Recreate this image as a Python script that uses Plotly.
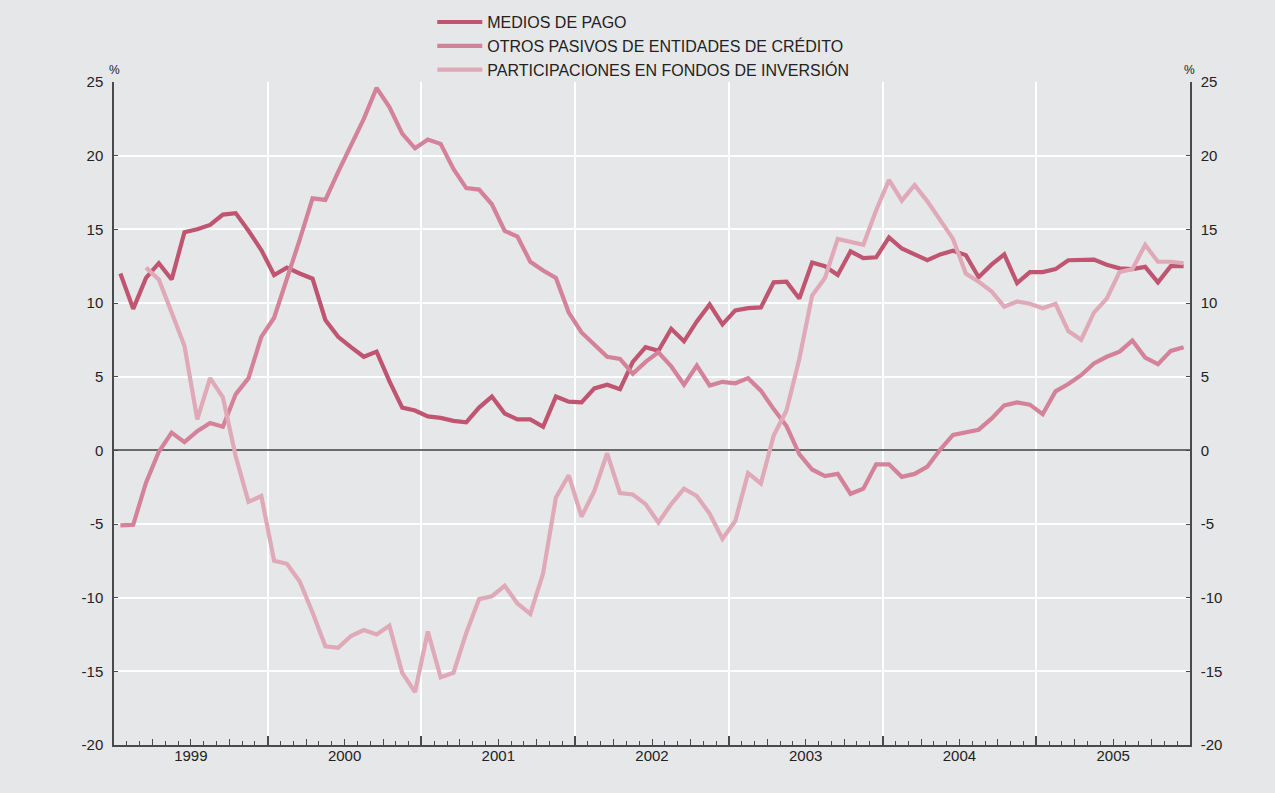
import plotly.graph_objects as go

# Monthly series, Jan 1999 - Dec 2005 (year-on-year growth, %)
years = ["1999", "2000", "2001", "2002", "2003", "2004", "2005"]
y_ticks = [-20, -15, -10, -5, 0, 5, 10, 15, 20, 25]
y_tick_text = ["-20", "-15", "-10", "-5", "0", "5", "10", "15", "20", "25"]

medios_de_pago = [
    12.0, 9.6, 11.7, 12.7, 11.6, 14.8, 15.0, 15.3, 16.0, 16.1, 14.9, 13.6,
    11.9, 12.4, 12.0, 11.65, 8.85, 7.7, 7.0, 6.35, 6.7, 4.7, 2.9, 2.7,
    2.3, 2.2, 2.0, 1.9, 2.9, 3.65, 2.5, 2.1, 2.1, 1.6, 3.65, 3.3,
    3.25, 4.2, 4.45, 4.15, 6.0, 7.0, 6.75, 8.25, 7.4, 8.75, 9.9, 8.55,
    9.5, 9.65, 9.7, 11.4, 11.45, 10.3, 12.75, 12.5, 11.9, 13.5, 13.05, 13.1,
    14.45, 13.7, 13.3, 12.9, 13.3, 13.55, 13.25, 11.75, 12.6, 13.3, 11.35, 12.1,
    12.1, 12.3, 12.9, 12.9, 12.95, 12.6, 12.35, 12.3, 12.45, 11.4, 12.5, 12.5,
]

otros_pasivos = [
    -5.1, -5.05, -2.2, -0.1, 1.2, 0.56, 1.3, 1.85, 1.6, 3.8, 4.9, 7.7,
    9.0, 11.6, 14.3, 17.1, 17.0, 18.9, 20.7, 22.5, 24.6, 23.3, 21.5, 20.5,
    21.1, 20.8, 19.1, 17.8, 17.7, 16.7, 14.9, 14.5, 12.8, 12.2, 11.7, 9.35,
    8.0, 7.2, 6.35, 6.2, 5.2, 6.0, 6.65, 5.7, 4.45, 5.75, 4.4, 4.65,
    4.55, 4.9, 4.05, 2.8, 1.65, -0.25, -1.3, -1.75, -1.6, -2.95, -2.6, -0.95,
    -0.95, -1.8, -1.6, -1.1, 0.05, 1.05, 1.2, 1.4, 2.15, 3.05, 3.25, 3.1,
    2.45, 4.0, 4.5, 5.1, 5.9, 6.35, 6.7, 7.45, 6.3, 5.85, 6.75, 7.0,
]

participaciones = [
    None, None, 12.4, 11.6, 9.35, 7.1, 2.1, 4.9, 3.6, -0.4, -3.5, -3.1,
    -7.5, -7.7, -8.9, -11.0, -13.3, -13.4, -12.6, -12.2, -12.5, -11.9, -15.1, -16.4,
    -12.3, -15.4, -15.1, -12.4, -10.1, -9.9, -9.2, -10.4, -11.1, -8.35, -3.2, -1.7,
    -4.5, -2.75, -0.2, -2.9, -3.0, -3.65, -4.9, -3.65, -2.6, -3.1, -4.3, -6.0,
    -4.8, -1.55, -2.25, 1.0, 2.7, 6.2, 10.5, 11.7, 14.35, 14.15, 13.95, 16.3,
    18.35, 16.95, 18.0, 16.9, 15.6, 14.35, 12.0, 11.45, 10.8, 9.75, 10.1, 9.95,
    9.65, 9.95, 8.1, 7.5, 9.35, 10.3, 12.1, 12.3, 13.95, 12.8, 12.8, 12.7,
]

series = [
    ("MEDIOS DE PAGO", medios_de_pago, "#bf5570"),
    ("OTROS PASIVOS DE ENTIDADES DE CRÉDITO", otros_pasivos, "#d38299"),
    ("PARTICIPACIONES EN FONDOS DE INVERSIÓN", participaciones, "#dfa9b7"),
]

n_months = len(medios_de_pago)
x_mid = [i + 0.5 for i in range(n_months)]

BG = "#e6e7e9"
AXIS = "#4a4a4a"
TXT = "#222222"
FONT = "Liberation Sans, Arial, sans-serif"

fig = go.Figure()
for name, values, color in series:
    fig.add_trace(go.Scatter(
        x=x_mid, y=values, name=name, mode="lines",
        line=dict(color=color, width=4.2),
        connectgaps=False,
    ))

# invisible trace to activate the right-hand axis
fig.add_trace(go.Scatter(x=[0], y=[0], yaxis="y2", xaxis="x2",
                         showlegend=False, hoverinfo="skip",
                         mode="markers", marker=dict(opacity=0)))

year_edges = list(range(0, n_months + 1, 12))
quarter_vals, quarter_text = [], []
for k, yr in enumerate(years):
    for q in (3, 6, 9):
        quarter_vals.append(12 * k + q)
        quarter_text.append(yr if q == 6 else "")

yaxis_common = dict(
    range=[-20, 25], tickmode="array", tickvals=y_ticks, ticktext=y_tick_text,
    ticks="inside", ticklen=4, tickcolor=AXIS, tickwidth=1,
    showline=True, linecolor=AXIS, linewidth=1.5,
    ticklabelstandoff=6,
    tickfont=dict(size=15, family=FONT, color=TXT),
)

fig.update_layout(
    width=1275, height=793,
    paper_bgcolor=BG, plot_bgcolor=BG,
    margin=dict(l=114, r=85, t=82, b=48, autoexpand=False),
    font=dict(family=FONT, size=15, color=TXT),
    showlegend=True,
    legend=dict(
        x=0.2958, y=1.116, xanchor="left", yanchor="top",
        bgcolor="rgba(0,0,0,0)", font=dict(size=16, family=FONT, color=TXT),
        tracegroupgap=0, itemwidth=45,
    ),
    xaxis=dict(
        range=[0, n_months], tickmode="array", tickvals=year_edges,
        showticklabels=False, ticks="inside", ticklen=9, tickwidth=1.5,
        tickcolor=AXIS, showgrid=True, gridcolor="white", gridwidth=1.6,
        showline=True, linecolor=AXIS, linewidth=1.5, zeroline=False,
        minor=dict(tickmode="linear", tick0=0, dtick=1, ticks="inside",
                   ticklen=4, tickwidth=1, tickcolor=AXIS, showgrid=False),
    ),
    xaxis2=dict(
        range=[0, n_months], overlaying="x", side="bottom",
        tickmode="array", tickvals=quarter_vals, ticktext=quarter_text,
        ticks="inside", ticklen=6, tickwidth=1, tickcolor=AXIS,
        showgrid=False, zeroline=False, showline=False,
        tickfont=dict(size=15, family=FONT, color=TXT),
    ),
    yaxis=dict(
        **yaxis_common,
        showgrid=True, gridcolor="white", gridwidth=1.6,
        zeroline=True, zerolinecolor="#6a6a6a", zerolinewidth=1.5,
    ),
    yaxis2=dict(
        **yaxis_common,
        overlaying="y", side="right", anchor="x",
        showgrid=False, zeroline=False,
    ),
)

for xp in (0.0, 0.9995):
    fig.add_annotation(
        xref="paper", yref="paper", x=xp, y=1.0, yshift=3,
        text="%", showarrow=False, xanchor="center", yanchor="bottom",
        font=dict(size=12, family=FONT, color=TXT),
    )

fig.write_html("out.html")
